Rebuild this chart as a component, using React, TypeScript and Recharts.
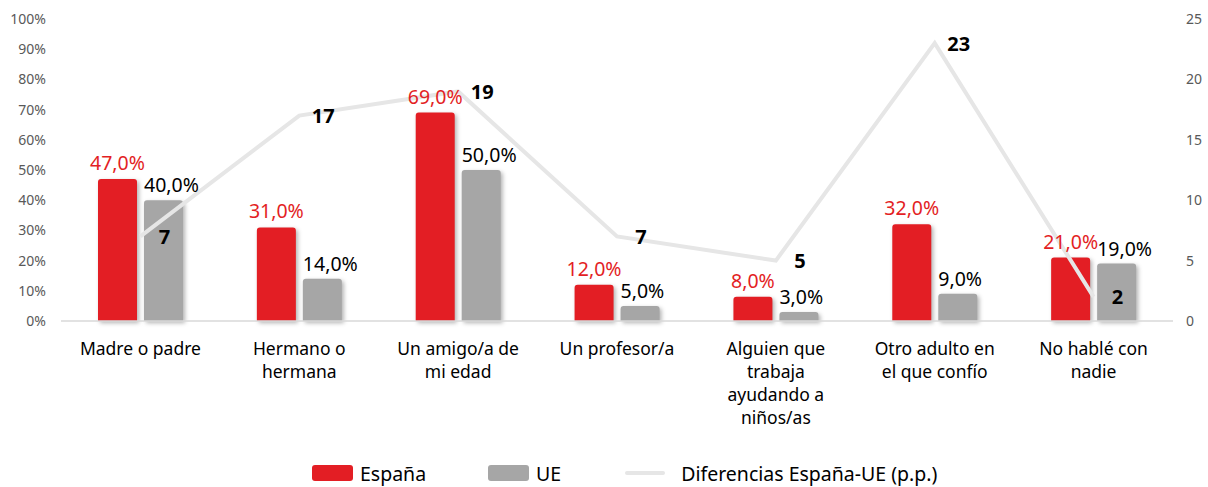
import React from 'react';
import { ComposedChart, Bar, Line, XAxis, YAxis, Legend, LabelList } from 'recharts';

const categories = [
  'Madre o padre',
  'Hermano o hermana',
  'Un amigo/a de mi edad',
  'Un profesor/a',
  'Alguien que trabaja ayudando a niños/as',
  'Otro adulto en el que confío',
  'No hablé con nadie',
];
const espana = [47, 31, 69, 12, 8, 32, 21];
const ue = [40, 14, 50, 5, 3, 9, 19];
const diferencias = [7, 17, 19, 7, 5, 23, 2];
const leftTicks = [0, 10, 20, 30, 40, 50, 60, 70, 80, 90, 100];
const rightTicks = [0, 5, 10, 15, 20, 25];

const data = categories.map((name, i) => ({
  name,
  espana: espana[i],
  ue: ue[i],
  diff: diferencias[i],
}));

const FONT = '"Noto Sans", Lato, sans-serif';
const RED = '#e31e24';
const GRAY = '#a6a6a6';
const LINE = '#e6e6e6';
const CAT_SIZE = 17.5;
const WRAP = 130;

const fmtPct = (v: number) => `${v.toFixed(1).replace('.', ',')}%`;

let ctx: CanvasRenderingContext2D | null = null;
const measure = (s: string) => {
  if (!ctx && typeof document !== 'undefined') {
    ctx = document.createElement('canvas').getContext('2d');
  }
  if (!ctx) return s.length * CAT_SIZE * 0.55;
  ctx.font = `${CAT_SIZE}px "Noto Sans"`;
  return ctx.measureText(s).width;
};

const wrap = (s: string) => {
  const words = s.split(' ');
  const lines: string[] = [];
  let cur = '';
  words.forEach((w) => {
    const t = cur ? `${cur} ${w}` : w;
    if (cur && measure(t) > WRAP) {
      lines.push(cur);
      cur = w;
    } else {
      cur = t;
    }
  });
  if (cur) lines.push(cur);
  return lines;
};

const CategoryTick = (props: any) => {
  const { x, y, payload } = props;
  const lines = wrap(payload.value);
  return (
    <text x={x} y={y} textAnchor="middle" fontSize={CAT_SIZE} fill="#000" fontFamily={FONT}>
      {lines.map((l, i) => (
        <tspan key={i} x={x} dy={i === 0 ? 14 : 23}>
          {l}
        </tspan>
      ))}
    </text>
  );
};

const UeLabel = (props: any) => {
  const { x, y, value } = props;
  return (
    <text x={x} y={y - 8} textAnchor="start" fontSize={19.5} fill="#000" fontFamily={FONT}>
      {fmtPct(value)}
    </text>
  );
};

const EsLabel = (props: any) => {
  const { x, y, width, value } = props;
  return (
    <text x={x + width / 2} y={y - 9} textAnchor="middle" fontSize={19.5} fill={RED} fontFamily={FONT}>
      {fmtPct(value)}
    </text>
  );
};

const DiffLabel = (props: any) => {
  const { x, y, value } = props;
  return (
    <text
      x={x + 24}
      y={y}
      textAnchor="middle"
      dominantBaseline="central"
      fontSize={20}
      fontWeight={700}
      fill="#000"
      fontFamily={FONT}
    >
      {value}
    </text>
  );
};

const renderLegend = () => (
  <div
    style={{
      display: 'flex',
      alignItems: 'center',
      height: 28,
      paddingLeft: 312,
      fontFamily: FONT,
      fontSize: 19.5,
      color: '#000',
    }}
  >
    <span style={{ display: 'inline-block', width: 41, height: 16, background: RED, borderRadius: 3, marginRight: 7 }} />
    <span style={{ marginRight: 62 }}>España</span>
    <span style={{ display: 'inline-block', width: 41, height: 16, background: GRAY, borderRadius: 3, marginRight: 7 }} />
    <span style={{ marginRight: 64 }}>UE</span>
    <span style={{ display: 'inline-block', width: 40, height: 4, background: LINE, borderRadius: 2, marginRight: 16 }} />
    <span>Diferencias España-UE (p.p.)</span>
  </div>
);

export default function App() {
  return (
    <div style={{ position: 'absolute', left: 0, top: 0, background: '#fff' }}>
      <ComposedChart
        width={1208}
        height={487}
        data={data}
        margin={{ top: 19, right: 0, left: 0, bottom: 0 }}
        barGap={7}
        barSize={39}
      >
        <XAxis
          dataKey="name"
          xAxisId="x"
          height={138}
          interval={0}
          tickLine={false}
          axisLine={{ stroke: '#d9d9d9', strokeWidth: 1.5 }}
          tick={<CategoryTick />}
          tickMargin={14}
        />
        <YAxis
          yAxisId="left"
          orientation="left"
          width={61}
          domain={[0, 100]}
          ticks={leftTicks}
          interval={0}
          axisLine={false}
          tickLine={false}
          tickFormatter={(v: number) => `${v}%`}
          tick={{ fontSize: 14, fill: '#595959', fontFamily: FONT }}
          tickMargin={9}
        />
        <YAxis
          yAxisId="right"
          orientation="right"
          width={35}
          domain={[0, 25]}
          ticks={rightTicks}
          interval={0}
          axisLine={false}
          tickLine={false}
          tick={{ fontSize: 14, fill: '#595959', fontFamily: FONT, textAnchor: 'start' }}
          tickMargin={7}
        />
        <Bar
          dataKey="espana"
          name="España"
          xAxisId="x"
          yAxisId="left"
          fill={RED}
          radius={[3, 3, 0, 0]}
          isAnimationActive={false}
          style={{ filter: 'drop-shadow(2px 2px 2px rgba(0,0,0,0.3))' }}
        >
          <LabelList dataKey="espana" content={<EsLabel />} />
        </Bar>
        <Bar
          dataKey="ue"
          name="UE"
          xAxisId="x"
          yAxisId="left"
          fill={GRAY}
          radius={[3, 3, 0, 0]}
          isAnimationActive={false}
          style={{ filter: 'drop-shadow(2px 2px 2px rgba(0,0,0,0.3))' }}
        >
          <LabelList dataKey="ue" content={<UeLabel />} />
        </Bar>
        <Line
          dataKey="diff"
          name="Diferencias España-UE (p.p.)"
          xAxisId="x"
          yAxisId="right"
          stroke={LINE}
          strokeWidth={4}
          dot={false}
          activeDot={false}
          isAnimationActive={false}
        >
          <LabelList dataKey="diff" content={<DiffLabel />} />
        </Line>
        <Legend verticalAlign="bottom" height={28} content={renderLegend} wrapperStyle={{ bottom: 0, left: 0, width: 1208 }} />
      </ComposedChart>
    </div>
  );
}
